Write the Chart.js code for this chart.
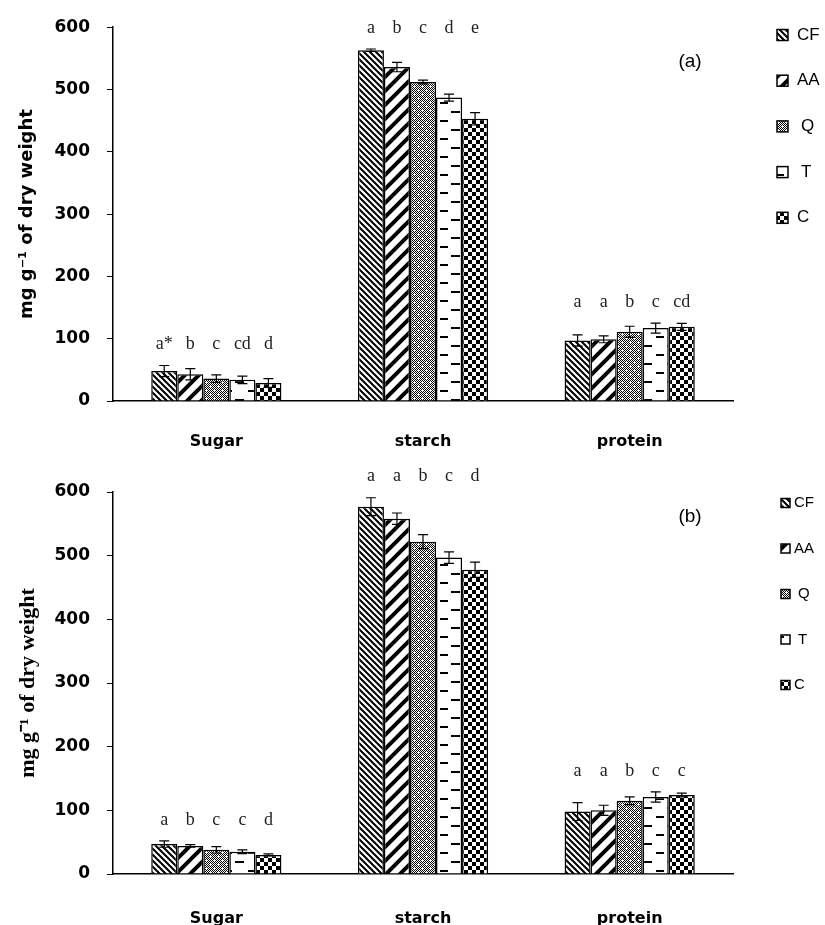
<!DOCTYPE html>
<html>
<head>
<meta charset="utf-8">
<script src="https://cdn.jsdelivr.net/npm/chart.js@4"></script>
<style>
  body { margin: 0; background: #fff; }
  #wrap { position: relative; width: 825px; height: 925px; }
  canvas { position: absolute; left: 0; }
  #chartA { top: 0; }
  #chartB { top: 462px; }
</style>
</head>
<body>
<div id="wrap">
  <canvas id="chartA" width="825" height="462"></canvas>
  <canvas id="chartB" width="825" height="463"></canvas>
</div>
<script>
const CATEGORIES = ["Sugar", "starch", "protein"];
const TREATMENTS = ["CF", "AA", "Q", "T", "C"];
const Y_MAX = 600;
const Y_STEP = 100;

// ====== Panel (a) ======
const CF_A = [48, 563, 97];
const AA_A = [43, 536, 99];
const Q_A  = [36, 512, 111];
const T_A  = [34, 487, 117];
const C_A  = [29, 453, 119];
const CF_A_ERR = [9, 2, 9];
const AA_A_ERR = [9, 7.5, 5.5];
const Q_A_ERR  = [6, 3, 9];
const T_A_ERR  = [6, 5.5, 8];
const C_A_ERR  = [7, 10, 5.5];
const LETTERS_A = [
  ["a*", "b", "c", "cd", "d"],
  ["a", "b", "c", "d", "e"],
  ["a", "a", "b", "c", "cd"]
];

// ====== Panel (b) ======
const CF_B = [47, 577, 98];
const AA_B = [44, 558, 100];
const Q_B  = [38, 522, 115];
const T_B  = [35, 497, 121];
const C_B  = [30, 478, 124];
const CF_B_ERR = [5, 14, 14];
const AA_B_ERR = [2, 9, 8];
const Q_B_ERR  = [5, 11, 6];
const T_B_ERR  = [3, 9, 8];
const C_B_ERR  = [1.5, 12, 3];
const LETTERS_B = [
  ["a", "b", "c", "c", "d"],
  ["a", "a", "b", "c", "d"],
  ["a", "a", "b", "c", "c"]
];

// ====== Fill patterns ======
function makePattern(kind) {
  const c = document.createElement("canvas");
  const g = c.getContext("2d");
  if (kind === "CF") {
    c.width = 6; c.height = 6;
    g.fillStyle = "#fff"; g.fillRect(0, 0, 6, 6);
    g.strokeStyle = "#000"; g.lineWidth = 2;
    g.beginPath();
    g.moveTo(-1, -1); g.lineTo(7, 7);
    g.moveTo(-1, 5); g.lineTo(1, 7);
    g.moveTo(5, -1); g.lineTo(7, 1);
    g.stroke();
  } else if (kind === "AA") {
    c.width = 14; c.height = 14;
    g.fillStyle = "#fff"; g.fillRect(0, 0, 14, 14);
    g.strokeStyle = "#000"; g.lineWidth = 4;
    g.beginPath();
    g.moveTo(-2, 16); g.lineTo(16, -2);
    g.moveTo(-9, 9); g.lineTo(9, -9);
    g.moveTo(5, 23); g.lineTo(23, 5);
    g.stroke();
  } else if (kind === "Q") {
    c.width = 8; c.height = 8;
    g.fillStyle = "#fff"; g.fillRect(0, 0, 8, 8);
    g.fillStyle = "#000";
    for (let y = 0; y < 8; y++) for (let x = 0; x < 8; x++) if ((x + y) % 2 === 0) g.fillRect(x, y, 1, 1);
    g.fillStyle = "#fff";
    g.fillRect(2, 1, 1, 3); g.fillRect(1, 2, 3, 1);
    g.fillRect(6, 5, 1, 3); g.fillRect(5, 6, 3, 1);
  } else if (kind === "T") {
    c.width = 24; c.height = 18;
    g.fillStyle = "#fff"; g.fillRect(0, 0, 24, 18);
    g.fillStyle = "#000";
    g.fillRect(0, 3, 4, 2); g.fillRect(19, 3, 5, 2);
    g.fillRect(8, 12, 8, 2);
  } else {
    c.width = 8; c.height = 8;
    g.fillStyle = "#fff"; g.fillRect(0, 0, 8, 8);
    g.fillStyle = "#000";
    g.fillRect(0, 0, 4, 4); g.fillRect(4, 4, 4, 4);
  }
  return g.createPattern(c, "repeat");
}

// ====== Error bars + significance letters ======
const annotationPlugin = {
  id: "annotations",
  afterDatasetsDraw(chart, args, opts) {
    const ctx = chart.ctx;
    const yScale = chart.scales.y;
    const tops = CATEGORIES.map(() => Infinity);
    ctx.save();
    ctx.strokeStyle = "#000";
    ctx.lineWidth = 1.2;
    chart.data.datasets.forEach((ds, d) => {
      const meta = chart.getDatasetMeta(d);
      meta.data.forEach((bar, i) => {
        const v = ds.data[i], e = ds.errors[i];
        const yTop = yScale.getPixelForValue(v + e);
        const yBot = yScale.getPixelForValue(v - e);
        tops[i] = Math.min(tops[i], yTop);
        ctx.beginPath();
        ctx.moveTo(bar.x, yTop); ctx.lineTo(bar.x, yBot);
        ctx.moveTo(bar.x - 5, yTop); ctx.lineTo(bar.x + 5, yTop);
        ctx.moveTo(bar.x - 5, yBot); ctx.lineTo(bar.x + 5, yBot);
        ctx.stroke();
      });
    });
    ctx.fillStyle = "#222";
    ctx.font = "18px 'Liberation Serif'";
    ctx.textAlign = "center";
    ctx.textBaseline = "middle";
    opts.letters.forEach((row, i) => {
      const y = Math.max(opts.letterMin, tops[i] - 21);
      row.forEach((txt, d) => {
        const bar = chart.getDatasetMeta(d).data[i];
        ctx.fillText(txt, bar.x, y);
      });
    });
    ctx.restore();
  },
  afterDraw(chart, args, opts) {
    const ctx = chart.ctx;
    const L = opts.legend;
    ctx.save();
    ctx.textBaseline = "middle";
    ctx.font = L.font;
    chart.data.datasets.forEach((ds, d) => {
      const y = L.y0 + d * L.gap;
      ctx.fillStyle = ds.backgroundColor;
      ctx.fillRect(L.x, y - L.box / 2, L.box, L.box);
      ctx.strokeStyle = "#000";
      ctx.lineWidth = 1.5;
      ctx.strokeRect(L.x, y - L.box / 2, L.box, L.box);
      ctx.fillStyle = "#000";
      ctx.textAlign = "left";
      ctx.fillText(ds.label, L.textX + (d === 2 || d === 3 ? 4 : 0), y);
    });
    ctx.font = "19px 'Liberation Sans'";
    ctx.textAlign = "center";
    ctx.fillText(opts.panel, opts.panelX, opts.panelY);
    ctx.restore();
  }
};

function buildChart(id, series, errors, letters, cfg) {
  const datasets = TREATMENTS.map((t, d) => ({
    label: t,
    data: series[d],
    errors: errors[d],
    backgroundColor: makePattern(t),
    borderColor: "#000",
    borderWidth: 1.5,
    categoryPercentage: 0.63,
    barPercentage: 1.0
  }));
  return new Chart(document.getElementById(id), {
    type: "bar",
    data: { labels: CATEGORIES, datasets: datasets },
    plugins: [annotationPlugin],
    options: {
      responsive: false,
      animation: false,
      layout: { padding: { left: 0, right: 92, top: cfg.top, bottom: 0 } },
      plugins: {
        legend: { display: false },
        tooltip: { enabled: false },
        annotations: {
          letters: letters, letterMin: cfg.letterMin,
          panel: cfg.panel, panelX: 690, panelY: cfg.panelY,
          legend: cfg.legend
        }
      },
      scales: {
        x: {
          grid: { display: false },
          border: { display: true, color: "#000", width: 1.5 },
          ticks: { color: "#000", padding: cfg.xPad, font: { family: "DejaVu Sans", weight: "bold", size: 16 } },
          afterFit: s => { s.height = cfg.xHeight; }
        },
        y: {
          min: 0, max: Y_MAX,
          grid: { drawOnChartArea: false, drawTicks: true, tickLength: 6, color: "#000" },
          border: { display: true, color: "#000", width: 1.5 },
          ticks: { stepSize: Y_STEP, color: "#000", padding: 17, font: { family: "DejaVu Sans", weight: "bold", size: 17 } },
          title: {
            display: true,
            text: "mg g\u207B\u00B9 of dry weight",
            color: "#000",
            font: cfg.titleFont,
            padding: { top: cfg.titlePad, bottom: 0 }
          },
          afterFit: s => { s.width = 113; }
        }
      }
    }
  });
}

// ====== Boot ======
buildChart("chartA",
  [CF_A, AA_A, Q_A, T_A, C_A],
  [CF_A_ERR, AA_A_ERR, Q_A_ERR, T_A_ERR, C_A_ERR],
  LETTERS_A,
  {
    top: 24, xHeight: 61, xPad: 23, panel: "(a)", panelY: 62, letterMin: 10,
    titleFont: { family: "DejaVu Sans", weight: "bold", size: 18 }, titlePad: 17,
    legend: { x: 777, textX: 797, y0: 35, gap: 45.7, box: 11, font: "17px 'Liberation Sans'" }
  });

buildChart("chartB",
  [CF_B, AA_B, Q_B, T_B, C_B],
  [CF_B_ERR, AA_B_ERR, Q_B_ERR, T_B_ERR, C_B_ERR],
  LETTERS_B,
  {
    top: 30, xHeight: 51, xPad: 27, panel: "(b)", panelY: 55, letterMin: 10,
    titleFont: { family: "Liberation Serif", weight: "bold", size: 22 }, titlePad: 15,
    legend: { x: 781, textX: 794, y0: 41, gap: 45.5, box: 9, font: "15px 'Liberation Sans'" }
  });
</script>
</body>
</html>
